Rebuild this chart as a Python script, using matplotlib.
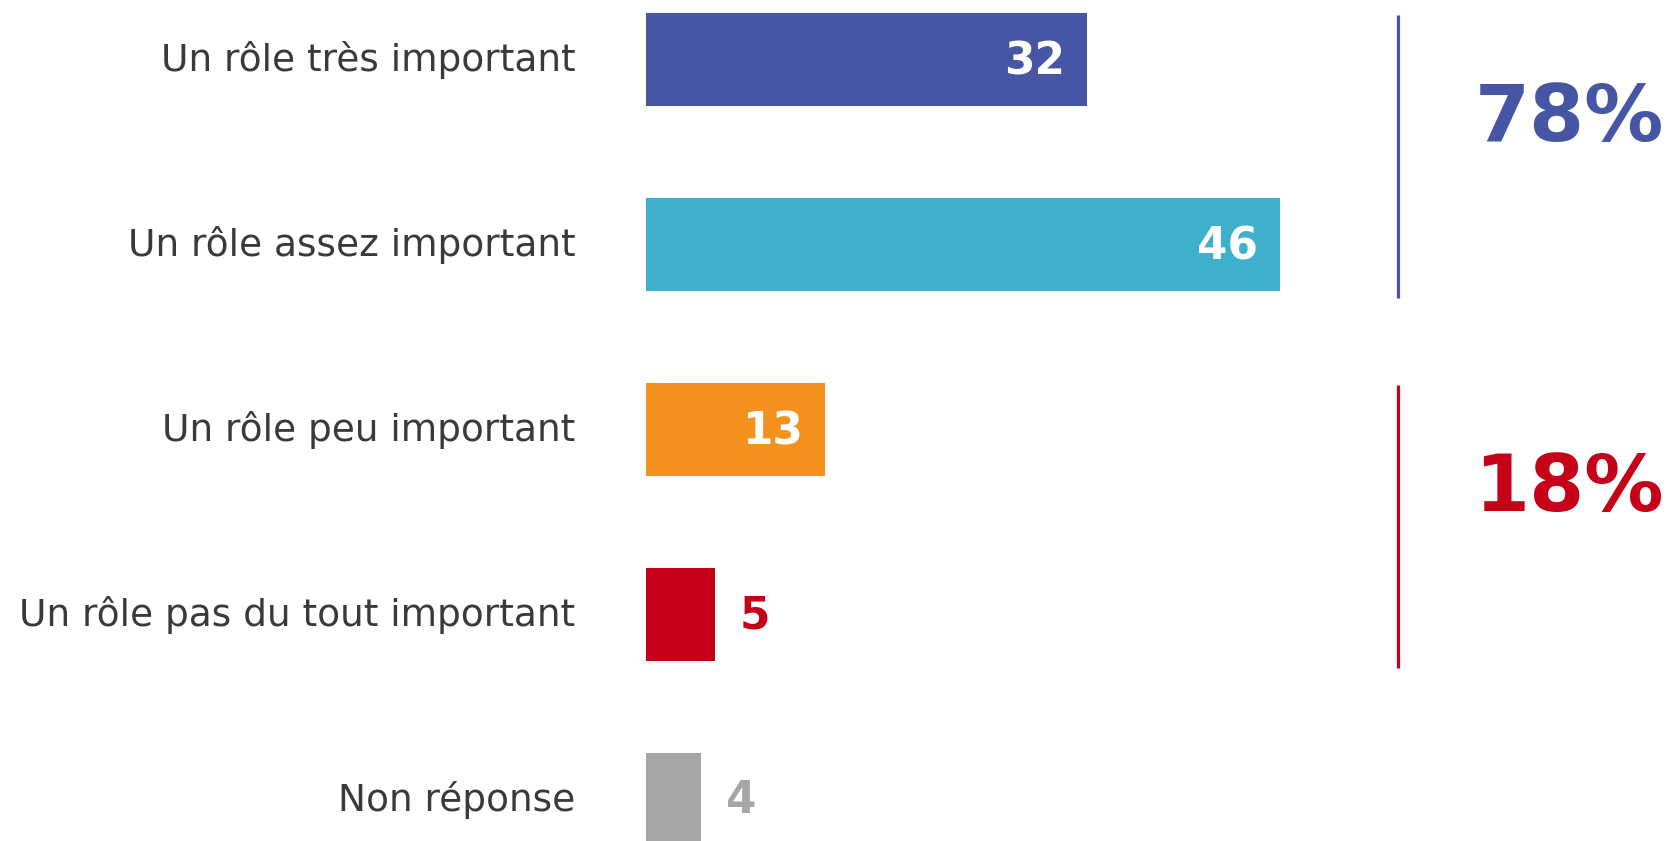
import matplotlib
matplotlib.use("Agg")
import matplotlib.pyplot as plt

categories = ["Un rôle très important", "Un rôle assez important",
              "Un rôle peu important", "Un rôle pas du tout important",
              "Non réponse"]
values = [32, 46, 13, 5, 4]
bar_colors = ["#4755A5", "#3EB0CC", "#F5921E", "#C50018", "#A6A6A6"]
inside = [True, True, True, False, False]
groups = [(0, 1), (2, 3)]
group_colors = ["#4755A5", "#C50018"]

W, H = 1670, 841
fig = plt.figure(figsize=(W / 100, H / 100), dpi=100)
left_px = 646
ax = fig.add_axes([left_px / W, 0, 1 - left_px / W, 1])
px_per_unit = 13.78
ax.set_xlim(0, (W - left_px) / px_per_unit)
ax.set_ylim(4.224, -0.3216)

ypos = list(range(len(categories)))
bar_h = 0.503
ax.barh(ypos, values, height=bar_h, color=bar_colors)

for y, v, c, ins in zip(ypos, values, bar_colors, inside):
    if ins:
        ax.annotate(str(v), (v, y), xytext=(-16, -2), textcoords="offset points",
                    ha="right", va="center", color="white",
                    fontsize=31.5, fontweight="bold")
    else:
        ax.annotate(str(v), (v, y), xytext=(18, -1), textcoords="offset points",
                    ha="left", va="center", color=c,
                    fontsize=31.5, fontweight="bold")

ax.set_yticks(ypos)
ax.set_yticklabels(categories, fontsize=27, color="#3a3a3a")
for lab in ax.get_yticklabels():
    lab.set_verticalalignment("center")
ax.tick_params(axis="y", length=0, pad=51)
ax.tick_params(axis="x", bottom=False, labelbottom=False)
for s in ax.spines.values():
    s.set_visible(False)

line_x = (1398 - left_px) / px_per_unit
text_x = (1569 - left_px) / px_per_unit
for (a, b), col in zip(groups, group_colors):
    top = a - bar_h / 2
    bot = b + bar_h / 2
    ax.plot([line_x, line_x], [top + 0.01, bot + 0.04], color=col, lw=2.3,
            clip_on=False, solid_capstyle="butt")
    total = sum(values[a:b + 1])
    ax.text(text_x, (a + b) / 2 - 0.18, f"{total}%", ha="center", va="center",
            color=col, fontsize=57, fontweight="bold", clip_on=False)

fig.savefig("out.png", dpi=100)
